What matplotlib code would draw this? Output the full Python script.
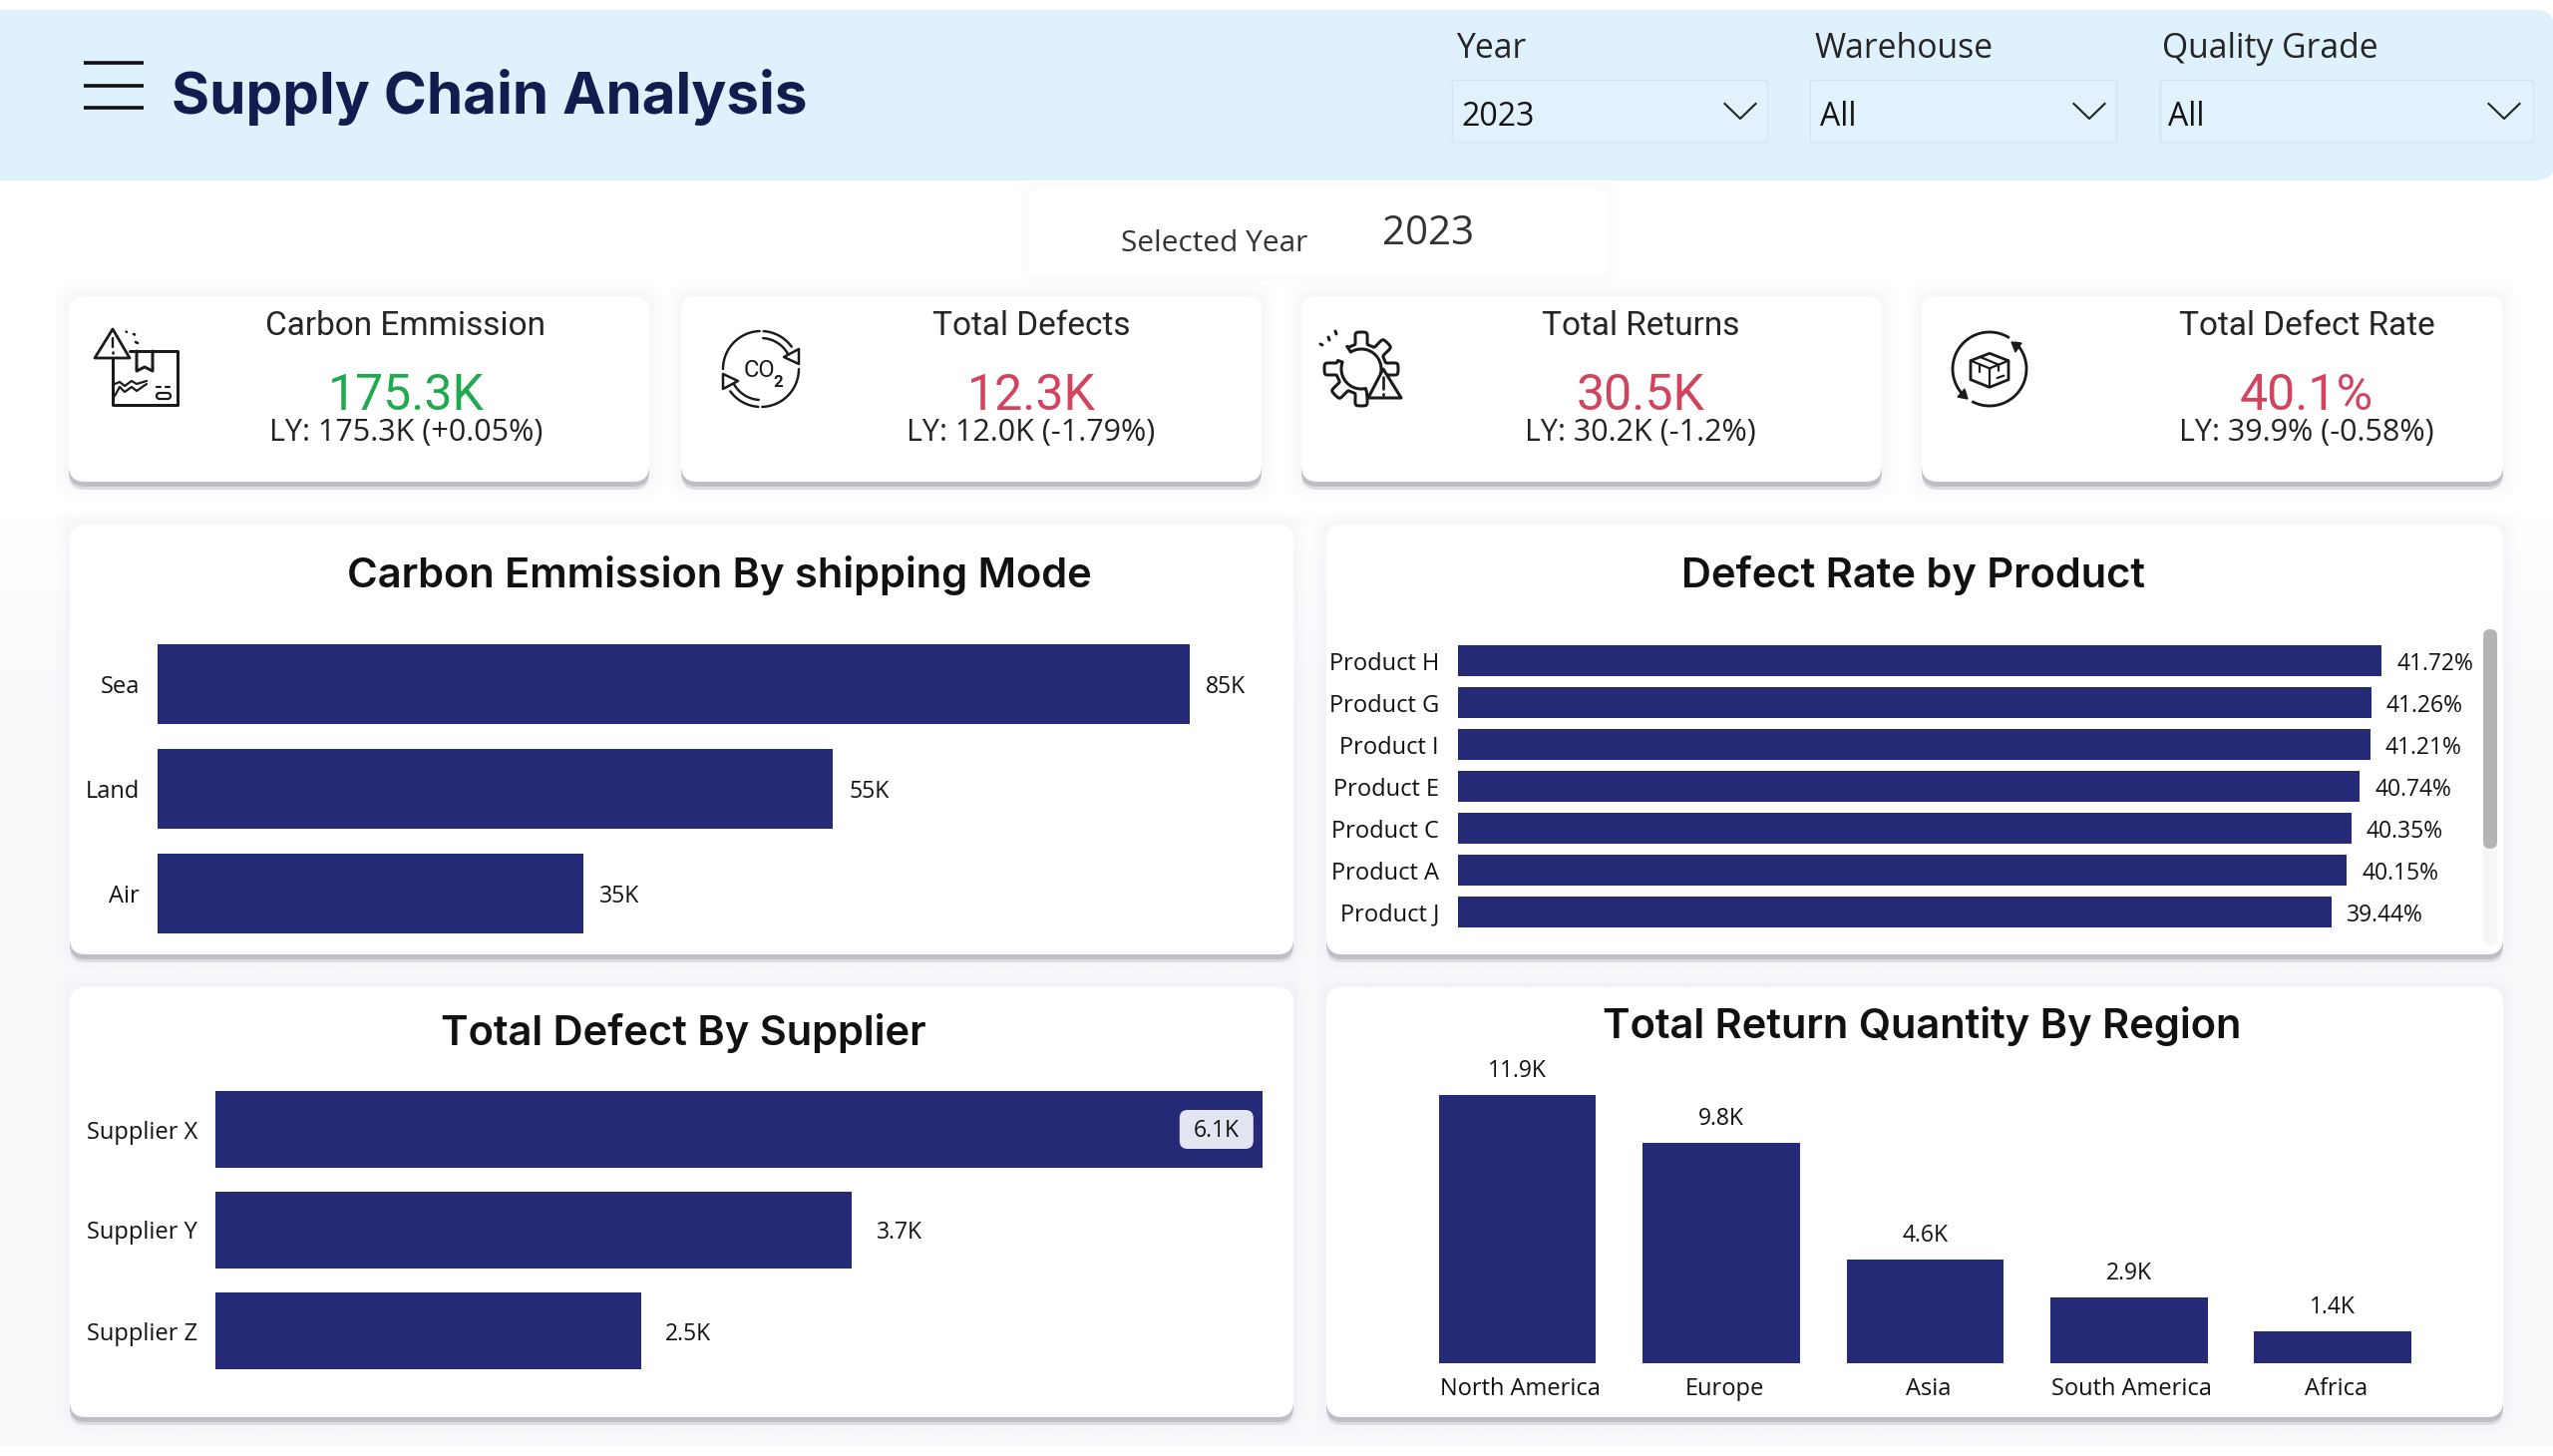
import numpy as np
import matplotlib
matplotlib.use("Agg")
import matplotlib.pyplot as plt
from matplotlib.patches import FancyBboxPatch, Rectangle, Polygon, Circle
from matplotlib.transforms import ScaledTranslation

# ---------- data ----------
shipping_modes = ["Sea", "Land", "Air"]
carbon_values = [85.0, 55.6, 35.05]
carbon_labels = ["85K", "55K", "35K"]

products = ["Product H", "Product G", "Product I", "Product E", "Product C", "Product A", "Product J"]
defect_rates = [41.72, 41.26, 41.21, 40.74, 40.35, 40.15, 39.44]

suppliers = ["Supplier X", "Supplier Y", "Supplier Z"]
supplier_defects = [6.1, 3.71, 2.48]
supplier_labels = ["6.1K", "3.7K", "2.5K"]

regions = ["North America", "Europe", "Asia", "South America", "Africa"]
region_returns = [11.9, 9.8, 4.6, 2.9, 1.4]

kpi_titles = ["Carbon Emmission", "Total Defects", "Total Returns", "Total Defect Rate"]
kpi_values = ["175.3K", "12.3K", "30.5K", "40.1%"]
kpi_ly = ["LY: 175.3K (+0.05%)", "LY: 12.0K (-1.79%)", "LY: 30.2K (-1.2%)", "LY: 39.9% (-0.58%)"]
kpi_colors = ["#1FAA50", "#D0445E", "#D0445E", "#D0445E"]

slicer_titles = ["Year", "Warehouse", "Quality Grade"]
slicer_values = ["2023", "All", "All"]

W, H = 2560, 1460
BAR = "#252A76"
SANS = "Open Sans"
HEAD = "Inter"
KPI = "Roboto"
INK = "#1A1A1A"
PT = 0.72  # px -> pt

fig = plt.figure(figsize=(W / 100, H / 100), dpi=100, facecolor="white")
ui = fig.add_axes([0, 0, 1, 1], zorder=0)
ui.axis("off")


def txt(x, y, s, size, color="#111111", ha="center", weight="normal", family=SANS, va="center", **kw):
    return ui.text(x, y, s, fontsize=size, color=color, ha=ha, va=va, fontweight=weight, family=family, **kw)


def rbox(x0, y0, x1, y1, r, fc, ec="none", lw=0, z=1, alpha=1.0, ax=None):
    p = FancyBboxPatch((x0 + r, y0 + r), x1 - x0 - 2 * r, y1 - y0 - 2 * r,
                       boxstyle=f"round,pad={r},rounding_size={r}", fc=fc, ec=ec, lw=lw, zorder=z, alpha=alpha)
    (ax or ui).add_patch(p)
    return p


def card(x0, y0, x1, y1):
    for i, a in zip((14, 9, 5), (0.006, 0.009, 0.014)):
        rbox(x0 - i, y0 - i, x1 + i, y1 + i + 3, 18, "#6A7488", z=1, alpha=a)
    rbox(x0, y1 - 40, x1, y1 + 8, 16, "#DADCE0", z=2)
    rbox(x0, y1 - 40, x1, y1 + 5, 16, "#BDBFC4", z=2)
    rbox(x0, y0, x1, y1, 16, "white", z=3)


def line(xs, ys, lw=3.0, c=INK, z=6):
    ui.plot(xs, ys, color=c, lw=lw * PT, solid_capstyle="round", solid_joinstyle="round", zorder=z)


def arc_xy(cx, cy, r, a0, a1):
    t = np.deg2rad(np.linspace(a0, a1, 50))
    return cx + r * np.cos(t), cy + r * np.sin(t)


def arc(cx, cy, r, a0, a1, lw=3.0):
    xs, ys = arc_xy(cx, cy, r, a0, a1)
    line(xs, ys, lw=lw)


# ---------- backdrop ----------
_top = np.array([255, 255, 255], dtype=float) / 255
_bot = np.array([0xF9, 0xFA, 0xFC], dtype=float) / 255
_fade = np.clip(np.linspace(-0.35, 1.0, 1260)[:, None] * 5.0, 0, 1)
_grad = (_top + (_bot - _top) * _fade)[:, None, :]
ui.imshow(_grad, extent=[0, W, 1450, 190], aspect="auto", zorder=0, interpolation="bilinear")
ui.set_xlim(0, W)
ui.set_ylim(H, 0)

# ---------- header ----------
rbox(-30, 10, W + 2, 181, 20, "#DFF1FD", z=1)
for yy in (63, 86, 108):
    ui.plot([84, 144], [yy, yy], color="#111111", lw=2.6, zorder=5, solid_capstyle="butt")
txt(172, 97, "Supply Chain Analysis", 42, color="#111D4E", ha="left", weight="bold", family=HEAD, zorder=5)

slicer_title_x = [1460, 1820, 2168]
slicer_box = [(1456, 1772), (1815, 2122), (2166, 2540)]
slicer_val_x = [1465, 1825, 2174]
chevron_x = [1745, 2095, 2511]
for title, val, tx, (b0, b1), vx, cx in zip(slicer_titles, slicer_values, slicer_title_x, slicer_box, slicer_val_x, chevron_x):
    txt(tx, 49, title, 24.3, color="#252525", ha="left", zorder=5)
    ui.add_patch(Rectangle((b0, 80), b1 - b0, 62, fc="#E1F2FD", ec="#D5E6F1", lw=1, zorder=4))
    txt(vx, 118, val, 23, color="#111111", ha="left", zorder=5)
    ui.plot([cx - 15.5, cx, cx + 15.5], [104, 119, 104], color="#222222", lw=1.5, zorder=5)

# ---------- selected year ----------
for i, a in zip((12, 6), (0.005, 0.008)):
    rbox(1032 - i, 190 - i, 1612 + i, 276 + i, 10, "#6A7488", z=1, alpha=a)
rbox(1032, 190, 1612, 276, 8, "white", z=2)
txt(1124, 244, "Selected Year", 21.5, color="#333333", ha="left", zorder=5)
txt(1386, 235, "2023", 29, color="#333333", ha="left", zorder=5)

# ---------- KPI cards ----------
kpi_boxes = [(69, 651), (683, 1265), (1305, 1887), (1927, 2510)]
kpi_cx = [407, 1034, 1645, 2313]
for (x0, x1), cx, title, val, ly, col in zip(kpi_boxes, kpi_cx, kpi_titles, kpi_values, kpi_ly, kpi_colors):
    card(x0, 297, x1, 483)
    txt(cx, 327, title, 24, color="#252525", family=KPI, zorder=5)
    txt(cx, 397, val, 36, color=col, family=KPI, zorder=5)
    txt(cx, 434, ly, 22, color="#222222", zorder=5)

# icon 1: parcel + warning
line([113, 113, 178, 178, 130], [359, 406, 406, 352, 352])
line([137, 137, 145, 153, 153], [352, 372, 368, 372, 352])
line([115, 120, 125, 132, 137, 147], [385, 383, 387, 382, 385, 382], lw=2.2)
line([115, 120, 125, 132, 137, 147], [397, 388, 393, 388, 392, 385], lw=2.2)
line([157, 161], [388, 388], lw=2.2)
line([166, 170], [388, 388], lw=2.2)
rbox(157, 394, 171, 400, 3, "none", ec=INK, lw=1.6, z=6)
ui.add_patch(Polygon([(113, 330), (95, 359), (130, 359)], closed=True, fc="white", ec=INK, lw=2.0,
                     joinstyle="round", zorder=7))
line([113, 113], [339, 348], lw=2.4, z=8)
line([113, 113], [353, 353.5], lw=2.6, z=8)
line([126.5, 127], [332.5, 333], lw=2.4)
line([134, 135], [335, 335.5], lw=2.6)
line([136, 138], [343, 344], lw=2.6)

# icon 2: CO2 cycle, second half is the first turned by 180 degrees
CX2, CY2 = 763, 370
for sgn in (1, -1):
    for r, a0, a1 in ((38, 180, 268), (38, 274, 324), (31, 274, 331)):
        xs, ys = arc_xy(0, 0, r, a0, a1)
        line(CX2 + sgn * xs, CY2 + sgn * ys, lw=2.4)
    ui.add_patch(Polygon([(CX2 + sgn * 38, CY2 - sgn * 20), (CX2 + sgn * 38, CY2 - sgn * 5), (CX2 + sgn * 23, CY2 - sgn * 12)],
                         closed=True, fc="white", ec=INK, lw=1.8, joinstyle="round", zorder=7))
txt(761, 371, "CO", 17, color=INK, zorder=6, family=KPI)
txt(780, 384, "2", 12, color=INK, zorder=6, family=KPI, weight="bold")

# icon 3: gear + warning
CX3, CY3 = 1365, 370


def gear_part(a0, a1):
    th = np.deg2rad(np.linspace(a0, a1, 140))
    r = 31 + 6 * np.tanh(4 * np.cos(8 * th))
    xs = CX3 + r * np.cos(th)
    ys = CY3 + r * np.sin(th)
    ix, iy = arc_xy(CX3, CY3, 20, a1, a0)
    line(np.r_[xs, ix, xs[0]], np.r_[ys, iy, ys[0]], lw=3.0)


gear_part(238, 375)
gear_part(77, 200)
ui.add_patch(Polygon([(1387, 370), (1372, 399), (1405, 399)], closed=True, fc="white", ec=INK, lw=2.2,
                     joinstyle="round", zorder=7))
line([1387, 1387], [378, 390], lw=2.6, z=8)
line([1387, 1387], [395, 395.5], lw=2.8, z=8)
line([1324, 1326], [345, 346], lw=3)
line([1332, 1333], [338, 341], lw=3)
line([1339, 1340], [332, 335], lw=3)

# icon 4: parcel in cycle
CX4, CY4 = 1995, 370
arc(CX4, CY4, 37, 137, 301, lw=2.8)
arc(CX4, CY4, 37, -45, 117, lw=2.8)
ui.add_patch(Polygon([(2017, 343), (2027, 344), (2021, 353)], closed=True, fc=INK, ec=INK, lw=1, zorder=7))
ui.add_patch(Polygon([(1973, 400), (1963, 398), (1970, 390)], closed=True, fc=INK, ec=INK, lw=1, zorder=7))


def bx(px, py):
    return 1940 + px / 3, 320 + py / 3


hexa = [bx(165, 103), bx(222, 125), bx(222, 182), bx(165, 205), bx(108, 182), bx(108, 125)]
ui.add_patch(Polygon(hexa, closed=True, fc="none", ec=INK, lw=2.0, joinstyle="round", zorder=6))
for pts in ([(108, 125), (165, 148), (222, 125)], [(165, 148), (165, 205)], [(135, 113), (192, 137), (192, 155)],
            [(135, 137), (135, 158)], [(188, 177), (208, 170)]):
    xy = np.array([bx(*p) for p in pts])
    line(xy[:, 0], xy[:, 1], lw=2.2)

# ---------- chart cards ----------
chart_boxes = [(70, 526, 1297, 957), (1330, 526, 2510, 957), (70, 990, 1297, 1421), (1330, 990, 2510, 1421)]
for b in chart_boxes:
    card(*b)
TW = 30
txt(721, 577, "Carbon Emmission By shipping Mode", TW, color="#111111", weight="semibold", family=HEAD, zorder=5)
txt(1919, 577, "Defect Rate by Product", TW, color="#111111", weight="semibold", family=HEAD, zorder=5)
txt(685, 1036, "Total Defect By Supplier", TW, color="#111111", weight="semibold", family=HEAD, zorder=5)
txt(1927, 1029, "Total Return Quantity By Region", TW, color="#111111", weight="semibold", family=HEAD, zorder=5)

# scrollbar
rbox(2490, 631, 2504, 948, 7, "#F6F6F7", z=4)
rbox(2490, 631, 2504, 851, 7, "#B4B4B6", z=5)


def chart_axes(x0, y0, x1, y1):
    ax = fig.add_axes([x0 / W, 1 - y1 / H, (x1 - x0) / W, (y1 - y0) / H], zorder=2)
    ax.patch.set_alpha(0)
    for s in ax.spines.values():
        s.set_visible(False)
    ax.tick_params(length=0)
    return ax


CAT = 17
VAL = 16.5
VAL_DY = -3 * PT


def style_ticks(labels):
    for t in labels:
        t.set_fontsize(CAT)
        t.set_family(SANS)
        t.set_color("#111111")


def hbars(box, cats, vals, labels, px_per_unit, bar_h, tick_gap, val_gap):
    x0, y0, x1, y1 = box
    ax = chart_axes(x0, y0, x1, y1)
    ax.barh(cats, vals, height=bar_h, color=BAR, edgecolor="none")
    ax.set_xlim(0, (x1 - x0) / px_per_unit)
    ax.set_ylim(len(cats) - 0.5, -0.5)
    ax.set_xticks([])
    ax.tick_params(axis="y", pad=tick_gap * PT)
    style_ticks(ax.get_yticklabels())
    for i, (v, l) in enumerate(zip(vals, labels)):
        ax.annotate(l, (v, i), xytext=(val_gap * PT, VAL_DY), textcoords="offset points",
                    ha="left", va="center", fontsize=VAL, family=SANS, color="#111111")
    return ax


hbars((158, 633.5, 1285, 948.5), shipping_modes, carbon_values, carbon_labels, 12.18, 0.76, 18, 16)
hbars((1462, 641.5, 2485, 935.5), products, defect_rates, [f"{v:.2f}%" for v in defect_rates], 22.2, 0.76, 19, 15)
ax3 = hbars((216, 1082, 1280, 1385), suppliers, supplier_defects, [""] + supplier_labels[1:], 172.1, 0.76, 18, 24)

# badge over the longest supplier bar, placed from the bar's own data position
over = fig.add_axes([0, 0, 1, 1], zorder=3)
over.axis("off")
over.set_xlim(0, W)
over.set_ylim(H, 0)
_bx, _by = ax3.transData.transform((supplier_defects[0], 0))
_bx, _by = _bx, H - _by
rbox(_bx - 83, _by - 19.5, _bx - 9, _by + 19.5, 8, "#E3E5F1", ax=over, z=4)
over.text(_bx - 46, _by + 1, supplier_labels[0], fontsize=VAL, family=SANS, color="#111111",
          ha="center", va="center", zorder=5)

ax4 = chart_axes(1419.4, 1040, 2441.4, 1367)
ax4.bar(regions, region_returns, width=157.6 / 204.4, color=BAR, edgecolor="none")
ax4.set_xlim(-0.5, 4.5)
ax4.set_ylim(0, 327 / 22.6)
ax4.set_yticks([])
ax4.tick_params(axis="x", pad=14 * PT)
style_ticks(ax4.get_xticklabels())
_shift = ScaledTranslation(3 / 100, 0, fig.dpi_scale_trans)
for t in ax4.get_xticklabels():
    t.set_transform(t.get_transform() + _shift)
for i, v in enumerate(region_returns):
    ax4.annotate(f"{v:.1f}K", (i, v), xytext=(0, 27 * PT + VAL_DY), textcoords="offset points",
                 ha="center", va="center", fontsize=VAL, family=SANS, color="#111111")

fig.savefig("out.png", dpi=100, facecolor="white")
